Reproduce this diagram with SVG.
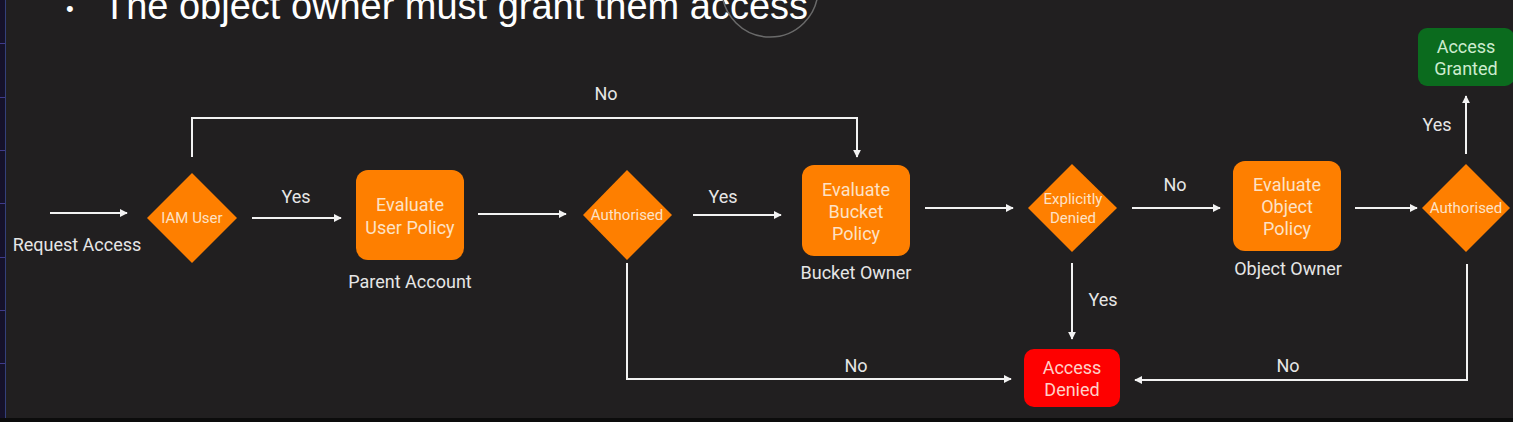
<svg xmlns="http://www.w3.org/2000/svg" width="1513" height="422" viewBox="0 0 1513 422">
<defs>
<marker id="ah" viewBox="0 0 10 10" refX="9" refY="5" markerWidth="8" markerHeight="8" markerUnits="userSpaceOnUse" orient="auto">
<path d="M0,0 L10,5 L0,10 z" fill="#f2f2f2"/>
</marker>
<style>
.bg{fill:#211f20}
.ln{fill:none;stroke:#f2f2f2;stroke-width:2}
.ar{marker-end:url(#ah)}
.lbl{font-family:Roboto,"Liberation Sans",sans-serif;font-size:18px;fill:#e6e6e6;text-anchor:middle}
.nt{font-family:Roboto,"Liberation Sans",sans-serif;font-size:18px;fill:#fde2c6;text-anchor:middle}
.dt{font-family:Roboto,"Liberation Sans",sans-serif;font-size:15px;fill:#fde2c6;text-anchor:middle}
.or{fill:#fe7f00}
</style>
</defs>
<rect class="bg" x="0" y="0" width="1513" height="422"/>
<rect x="0" y="0" width="5" height="422" fill="#15112a"/>
<line x1="5.5" y1="0" x2="5.5" y2="422" stroke="#34407a" stroke-width="1"/>
<g stroke="#3f3a8a" stroke-width="1">
<line x1="0" y1="43.5" x2="5" y2="43.5"/><line x1="0" y1="97.5" x2="5" y2="97.5"/><line x1="0" y1="150.5" x2="5" y2="150.5"/><line x1="0" y1="203.5" x2="5" y2="203.5"/><line x1="0" y1="257.5" x2="5" y2="257.5"/><line x1="0" y1="310.5" x2="5" y2="310.5"/><line x1="0" y1="363.5" x2="5" y2="363.5"/>
</g>
<rect x="0" y="418" width="1513" height="4" fill="#0c0c0c"/>

<g id="heading">
<text x="66" y="16" font-family="'Liberation Sans',Arial,sans-serif" font-size="22" fill="#ffffff">•</text>
<text x="103" y="19" font-family="'Liberation Sans',Arial,sans-serif" font-size="38" fill="#ffffff" textLength="705" lengthAdjust="spacingAndGlyphs">The object owner must grant them access</text>
<circle cx="770" cy="-11" r="48" fill="none" stroke="#6a6a6a" stroke-width="1.5"/>
</g>

<g id="connectors">
<line class="ln ar" x1="50" y1="213" x2="127" y2="213"/>
<line class="ln ar" x1="252" y1="218" x2="341" y2="218"/>
<line class="ln ar" x1="478" y1="214" x2="566" y2="214"/>
<line class="ln ar" x1="693" y1="215" x2="781" y2="215"/>
<line class="ln ar" x1="925" y1="208" x2="1013" y2="208"/>
<line class="ln ar" x1="1132" y1="208" x2="1220" y2="208"/>
<line class="ln ar" x1="1355" y1="208" x2="1417" y2="208"/>
<line class="ln ar" x1="1466" y1="154" x2="1466" y2="96"/>
<polyline class="ln ar" points="192,157 192,118 857,118 857,157"/>
<polyline class="ln ar" points="627,263 627,379 1011,379"/>
<line class="ln ar" x1="1072" y1="263" x2="1072" y2="339"/>
<polyline class="ln ar" points="1467,264 1467,380 1135,380"/>
<text class="lbl" x="296" y="203">Yes</text>
<text class="lbl" x="723" y="203">Yes</text>
<text class="lbl" x="606" y="100">No</text>
<text class="lbl" x="1175" y="191">No</text>
<text class="lbl" x="1437" y="131">Yes</text>
<text class="lbl" x="1103" y="306">Yes</text>
<text class="lbl" x="856" y="372">No</text>
<text class="lbl" x="1288" y="372">No</text>
<text class="lbl" x="77" y="251">Request Access</text>
</g>

<g id="iam-user">
<polygon class="or" points="192,173 237,218 192,263 147,218"/>
<text class="dt" x="192" y="223">IAM User</text>
</g>

<g id="eval-user-policy">
<rect class="or" x="356" y="170" width="108" height="90" rx="12"/>
<text class="nt" x="410" y="211">Evaluate</text>
<text class="nt" x="410" y="234">User Policy</text>
<text class="lbl" x="410" y="288">Parent Account</text>
</g>

<g id="authorised-1">
<polygon class="or" points="627,170 672,215 627,260 583,215"/>
<text class="dt" x="627" y="220">Authorised</text>
</g>

<g id="eval-bucket-policy">
<rect class="or" x="802" y="165" width="108" height="91" rx="12"/>
<text class="nt" x="856" y="196">Evaluate</text>
<text class="nt" x="856" y="218">Bucket</text>
<text class="nt" x="856" y="240">Policy</text>
<text class="lbl" x="856" y="279">Bucket Owner</text>
</g>

<g id="explicitly-denied">
<polygon class="or" points="1072,164 1117,208 1072,252 1028,208"/>
<text class="dt" x="1073" y="204">Explicitly</text>
<text class="dt" x="1073" y="223">Denied</text>
</g>

<g id="eval-object-policy">
<rect class="or" x="1233" y="161" width="108" height="90" rx="12"/>
<text class="nt" x="1287" y="191">Evaluate</text>
<text class="nt" x="1287" y="213">Object</text>
<text class="nt" x="1287" y="235">Policy</text>
<text class="lbl" x="1288" y="275">Object Owner</text>
</g>

<g id="authorised-2">
<polygon class="or" points="1466,164 1510,208 1466,252 1422,208"/>
<text class="dt" x="1466" y="213">Authorised</text>
</g>

<g id="access-granted">
<rect x="1418" y="28" width="96" height="58" rx="9" fill="#0b6b1e"/>
<text class="nt" x="1466" y="53" style="fill:#cdeccf">Access</text>
<text class="nt" x="1466" y="75" style="fill:#cdeccf">Granted</text>
</g>

<g id="access-denied">
<rect x="1024" y="349" width="96" height="58" rx="10" fill="#fe0000"/>
<text class="nt" x="1072" y="374" style="fill:#ffd0c8">Access</text>
<text class="nt" x="1072" y="396" style="fill:#ffd0c8">Denied</text>
</g>
</svg>
